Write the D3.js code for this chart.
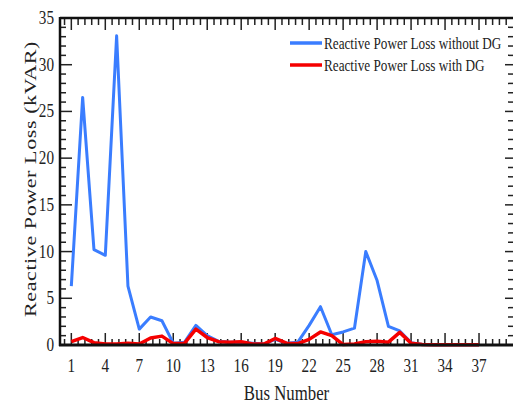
<html>
<script src="https://cdnjs.cloudflare.com/ajax/libs/d3/7.8.5/d3.min.js"></script>
<style>
  body {margin: 0; background: white;}
  svg text {fill: #222;}
</style>
<body>
<svg id="chart" width="513" height="405" font-family="'Liberation Serif', 'DejaVu Serif', serif"></svg>
<script>
// bus numbers and reactive power loss (kVAR)
var busNo = [1,2,3,4,5,6,7,8,9,10,11,12,13,14,15,16,17,18,19,20,21,22,23,24,25,26,27,28,29,30,31,32,33,34,35,36,37];
var lossNoDG = [6.3,26.5,10.2,9.6,33.1,6.3,1.7,3.0,2.6,0.2,0.3,2.1,1.0,0.4,0.3,0.3,0.2,0.1,0.6,0.2,0.3,2.1,4.1,1.1,1.4,1.8,10.0,6.9,2.0,1.5,0.25,0.05,0.02,0.02,0.02,0.02,0.02];
var lossDG = [0.35,0.8,0.25,0.1,0.1,0.2,0.1,0.75,0.95,0.15,0.2,1.7,0.8,0.35,0.3,0.35,0.1,0.1,0.7,0.2,0.15,0.6,1.4,1.0,0.05,0.1,0.35,0.4,0.3,1.35,0.2,0.05,0.02,0.02,0.02,0.02,0.02];
var xTicks = [1,4,7,10,13,16,19,22,25,28,31,34,37];
var yTicks = [0,5,10,15,20,25,30,35];
var seriesNames = ["Reactive Power Loss without DG", "Reactive Power Loss with DG"];
var seriesColors = ["#3a7dff", "#f50000"];

var svg = d3.select("#chart");
var sx = 0.8; // the figure's text is squeezed sideways

var xs = d3.scaleLinear().domain([0,40]).range([60,513]);
var ys = d3.scaleLinear().domain([0,35]).range([345,18]);

// minor ticks
var xMinor = d3.range(0.4, 40, 0.6).filter(function(v){ return xTicks.indexOf(Math.round(v*10)/10) < 0; });
var yMinor = d3.range(1, 35, 1).filter(function(v){ return v % 5 != 0; });

var ticks = svg.append("g").attr("stroke", "#222").attr("stroke-width", 1.5);
// bottom + top
xTicks.forEach(function(v){
  ticks.append("line").attr("x1", xs(v)).attr("x2", xs(v)).attr("y1", ys(0)).attr("y2", ys(0)-12);
  ticks.append("line").attr("x1", xs(v)).attr("x2", xs(v)).attr("y1", ys(35)).attr("y2", ys(35)+12);
});
xMinor.forEach(function(v){
  ticks.append("line").attr("x1", xs(v)).attr("x2", xs(v)).attr("y1", ys(0)).attr("y2", ys(0)-6);
  ticks.append("line").attr("x1", xs(v)).attr("x2", xs(v)).attr("y1", ys(35)).attr("y2", ys(35)+7);
});
// left + right
yTicks.forEach(function(v){
  ticks.append("line").attr("x1", xs(0)).attr("x2", xs(0)+12).attr("y1", ys(v)).attr("y2", ys(v));
  ticks.append("line").attr("x1", 513).attr("x2", 513-8).attr("y1", ys(v)).attr("y2", ys(v));
});
yMinor.forEach(function(v){
  ticks.append("line").attr("x1", xs(0)).attr("x2", xs(0)+6).attr("y1", ys(v)).attr("y2", ys(v));
  ticks.append("line").attr("x1", 513).attr("x2", 513-5).attr("y1", ys(v)).attr("y2", ys(v));
});

// frame
svg.append("line").attr("x1", xs(0)).attr("x2", 513).attr("y1", ys(35)).attr("y2", ys(35))
  .attr("stroke", "#111").attr("stroke-width", 2.5);
svg.append("line").attr("x1", xs(0)).attr("x2", xs(0)).attr("y1", ys(35)-1).attr("y2", ys(0)+1)
  .attr("stroke", "#111").attr("stroke-width", 2.5);

// tick labels
xTicks.forEach(function(v){
  svg.append("text").attr("transform", "translate(" + xs(v) + ",372) scale(" + sx + ",1)")
    .attr("text-anchor", "middle").attr("font-size", 19).text(v);
});
yTicks.forEach(function(v){
  svg.append("text").attr("transform", "translate(54," + (ys(v)+6) + ") scale(" + sx + ",1)")
    .attr("text-anchor", "end").attr("font-size", 19).text(v);
});

// axis titles
svg.append("text").attr("transform", "translate(" + xs(20) + ",400) scale(" + sx + ",1)")
  .attr("text-anchor", "middle").attr("font-size", 21).text("Bus Number");
svg.append("text").attr("transform", "translate(36,179) scale(" + sx + ",1) rotate(-90)")
  .attr("text-anchor", "middle").attr("font-size", 22).attr("letter-spacing", 0.6)
  .text("Reactive Power Loss (kVAR)");

// lines
var line = d3.line().x(function(d){ return xs(d[0]); }).y(function(d){ return ys(d[1]); });
[lossNoDG, lossDG].forEach(function(vals, k){
  svg.append("path")
    .datum(busNo.map(function(b, i){ return [b, vals[i]]; }))
    .attr("d", line)
    .attr("fill", "none")
    .attr("stroke", seriesColors[k])
    .attr("stroke-width", k == 0 ? 3 : 3.5)
    .attr("stroke-linejoin", "round");
});

// bottom axis line drawn over the lines
svg.append("line").attr("x1", xs(0)-1).attr("x2", 513).attr("y1", ys(0)).attr("y2", ys(0))
  .attr("stroke", "#111").attr("stroke-width", 3);

// legend
seriesNames.forEach(function(name, k){
  var yy = 43 + k*22;
  svg.append("line").attr("x1", 290).attr("x2", 322).attr("y1", yy).attr("y2", yy)
    .attr("stroke", seriesColors[k]).attr("stroke-width", 3.5);
  svg.append("text").attr("transform", "translate(324," + (yy+6) + ") scale(" + sx + ",1)")
    .attr("font-size", 16.5).text(name);
});
</script>
</body>
</html>
